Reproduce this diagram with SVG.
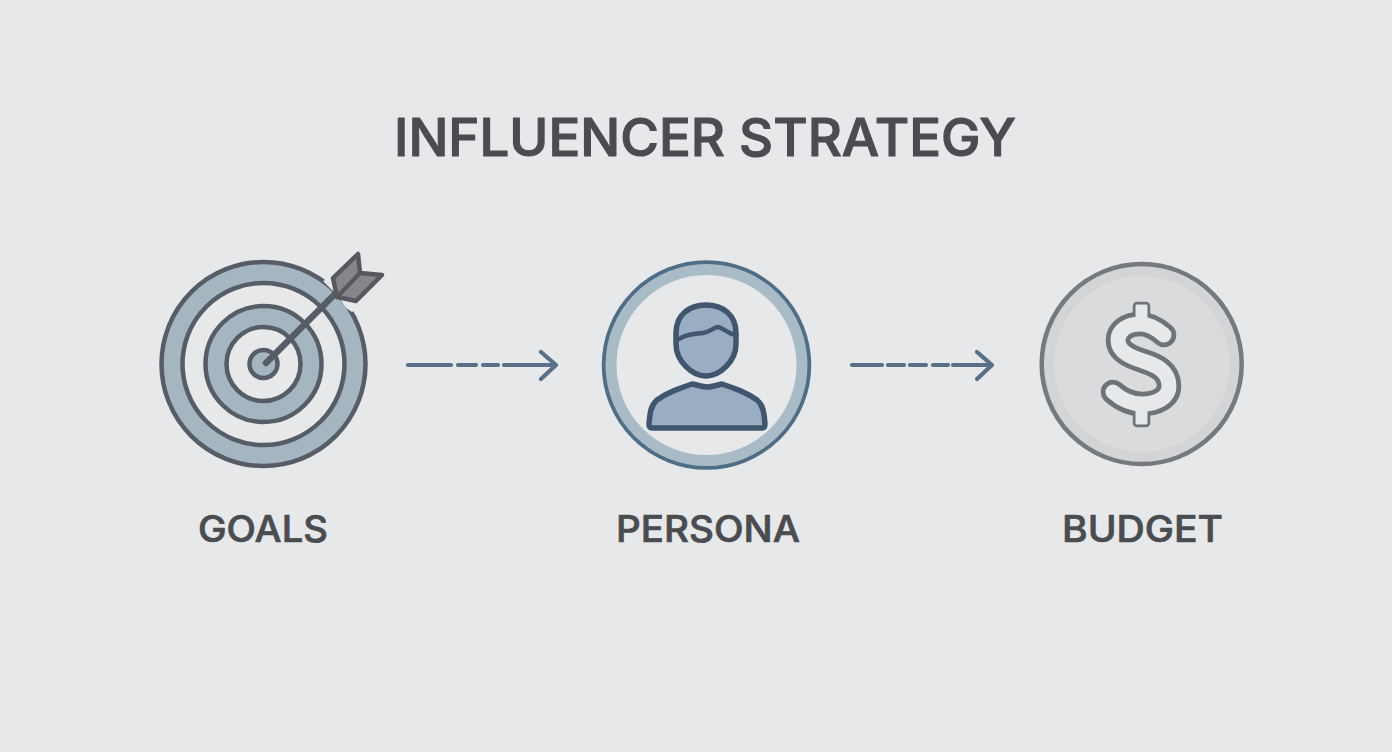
<svg xmlns="http://www.w3.org/2000/svg" width="1392" height="752" viewBox="0 0 1392 752">
<style>
.t{font-family:"Inter","Liberation Sans",sans-serif;font-weight:500;fill:#4b4c50;stroke:#4b4c50;stroke-linejoin:round}
.lab{font-size:37px;stroke-width:.7}
.title{font-size:52px;stroke-width:1.100}
.band{fill:#a6b6c1;stroke:#565d66;stroke-width:4.500}
.gap{fill:#e6e8ea;stroke:#565d66;stroke-width:4.500}
.c{fill:none;stroke:#5a7088;stroke-width:4.200;stroke-linecap:round;stroke-linejoin:round}
.p{fill:#9aaec3;stroke:#3f566e;stroke-width:5.500;stroke-linejoin:round}
</style>
<defs>
<path id="s" d="M1164 335C1156 328 1149 324 1140 324C1127 324 1118 331 1118 340C1118 352 1131 357 1143 361C1156 365 1169 371 1169 386C1169 398 1156 404 1142 404C1131 404 1122 400 1113 392"/>
</defs>
<rect width="1392" height="752" fill="#e6e8ea"/>
<g id="title"><text class="t title" x="394" y="156" textLength="622" lengthAdjust="spacingAndGlyphs">INFLUENCER STRATEGY</text></g>
<g id="goals">
<circle cx="263.500" cy="364" r="102" class="band"/>
<circle cx="263.500" cy="364" r="81" class="gap"/>
<circle cx="263.500" cy="364" r="58" class="band"/>
<circle cx="263.500" cy="364" r="37" class="gap"/>
<circle cx="263.500" cy="364" r="14" class="band"/>
<path d="M323 281L338 296L346 308L352 312L372 300L345 270Z" fill="#e6e8ea"/>
<path d="M266 363L337 292" fill="none" stroke="#565d66" stroke-width="6.500" stroke-linecap="round"/>
<path d="M358 254L360 273L382 275L356 301L337 297L333 278Z" fill="#84868b" stroke="#56585e" stroke-width="4.500" stroke-linejoin="round"/>
<path d="M337 297L360 273" fill="none" stroke="#56585e" stroke-width="4"/>
<text class="t lab" x="198" y="542" textLength="130" lengthAdjust="spacingAndGlyphs">GOALS</text>
</g>
<g id="persona">
<circle cx="706.500" cy="365" r="102.500" fill="#e6e8ea" stroke="#4f6d84" stroke-width="4.500"/>
<circle cx="706.500" cy="365" r="95.500" fill="none" stroke="#a9bbc7" stroke-width="11"/>
<path class="p" d="M676 333C676 315 689 305 706 305C723 305 736 315 736 333V344C736 361 720 376 706 376C692 376 676 361 676 344Z"/>
<path d="M679 339C688 333 696 334 703 333C710 332 714 327 718 327C723 328 729 334 735 335" fill="none" stroke="#3f566e" stroke-width="4.500" stroke-linecap="round"/>
<path class="p" d="M692 384C698 385 702 387 707 387C712 387 717 385 722 384C734 388 746 392 757 400C763 405 764 412 765 424C765 427 764 428 762 428H652C650 428 649 427 649 424C650 412 651 405 657 400C668 392 680 388 692 384Z"/>
<text class="t lab" x="616" y="542" textLength="184" lengthAdjust="spacingAndGlyphs">PERSONA</text>
</g>
<g id="budget">
<circle cx="1141.700" cy="364" r="100" fill="#d3d4d6" stroke="#76797d" stroke-width="4.500"/>
<circle cx="1141.700" cy="364" r="88" fill="#dadbdc"/>
<g fill="none" stroke-linecap="round" stroke-linejoin="round">
<use href="#s" stroke="#6f7377" stroke-width="24.500"/>
<rect x="1135" y="304" width="13" height="18" rx="2" fill="#6f7377" stroke="#6f7377" stroke-width="4.500"/>
<rect x="1135" y="406" width="13" height="19" rx="2" fill="#6f7377" stroke="#6f7377" stroke-width="4.500"/>
<rect x="1135.500" y="304.500" width="12" height="24" rx="1.500" fill="#e6e8ea"/>
<rect x="1135.500" y="400" width="12" height="24.500" rx="1.500" fill="#e6e8ea"/>
<use href="#s" stroke="#e6e8ea" stroke-width="15"/>
</g>
<text class="t lab" x="1062" y="542" textLength="161" lengthAdjust="spacingAndGlyphs">BUDGET</text>
</g>
<g id="connectors">
<path class="c" d="M408 365H451M458 365H476M483 365H498M504 365H556M541 352L556 365L541 379"/>
<path class="c" d="M852 365H882M888 365H904M910 365H926M933 365H948M953 365H992M977 352L992 365L977 379"/>
</g>
</svg>
